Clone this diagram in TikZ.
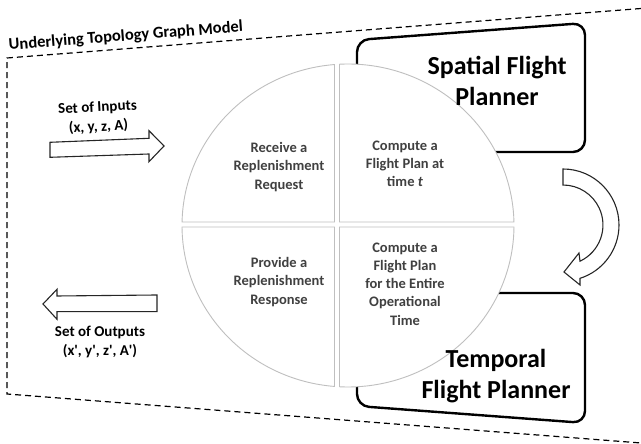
\documentclass[tikz,border=0pt]{standalone}
\usepackage{fontspec}
\setmainfont{Carlito}
\usetikzlibrary{calc}
\definecolor{qtext}{HTML}{404040}
\definecolor{qline}{HTML}{BFBFBF}

\begin{document}
\begin{tikzpicture}[x=1pt,y=1pt,
  border/.style={dash pattern=on 6pt off 4pt, line width=1.2pt},
  planner/.style={draw=black, line width=2.4pt, rounded corners=12pt, fill=white},
  plannerlabel/.style={font=\fontsize{26}{31}\selectfont\bfseries, align=center, inner sep=0pt},
  quad/.style={draw=qline, line width=0.9pt, fill=white},
  quadlabel/.style={font=\fontsize{14.5}{18.3}\selectfont\bfseries, text=qtext, align=center, inner sep=0pt},
  blockarrow/.style={draw=black!85, line width=1.1pt, fill=white, line join=miter},
  iolabel/.style={font=\fontsize{15}{19.5}\selectfont\bfseries, align=center, inner sep=0pt}]
\useasboundingbox (0,0) rectangle (641,444);

% outer dashed frame of the topology model
\draw[border] (641,435.5) -- (7,386) -- (7,50) -- (641,1);
\node[anchor=base west, rotate=4.5, font=\fontsize{16.5}{20}\selectfont\bfseries, inner sep=0pt]
  (title) at (9,394) {Underlying Topology Graph Model};

% planner panels (behind the cycle)
\draw[planner] (471,292) -- (357,292) -- (357,404) -- (585,421) -- (585,292) -- cycle;
\draw[planner] (471,151) -- (585,151) -- (585,21) -- (357,38) -- (357,151) -- cycle;

% four segments of the cycle
\coordinate (C) at (348,218.5);
\pgfmathsetmacro\tR{acos(-8.5/166)}
\pgfmathsetmacro\tL{acos(-13.5/166)}
\pgfmathsetmacro\sT{asin(3.5/161.5)}
\pgfmathsetmacro\sB{asin(-1.5/161.5)}
\draw[quad] (339.5,222) -- ($(C)+(\tR:166 and 161.5)$)
  arc[start angle=\tR, end angle=\sT, x radius=166, y radius=161.5] -- cycle;
\draw[quad] (334.5,222) -- ($(C)+(\tL:166 and 161.5)$)
  arc[start angle=\tL, end angle={180-\sT}, x radius=166, y radius=161.5] -- cycle;
\draw[quad] (334.5,217) -- ($(C)+({180-\sB}:166 and 161.5)$)
  arc[start angle={180-\sB}, end angle={360-\tL}, x radius=166, y radius=161.5] -- cycle;
\draw[quad] (339.5,217) -- ($(C)+({360-\tR}:166 and 161.5)$)
  arc[start angle={360-\tR}, end angle={360+\sB}, x radius=166, y radius=161.5] -- cycle;

\node[quadlabel] (receive) at (279,277) {Receive a\\Replenishment\\Request};
\node[quadlabel] (computet) at (405,280) {Compute a\\Flight Plan at\\time \textit{t}};
\node[quadlabel] (provide) at (279,162) {Provide a\\Replenishment\\Response};
\node[quadlabel] (computeall) at (405,160) {Compute a\\Flight Plan\\for the Entire\\Operational\\Time};

% planner titles
\node[plannerlabel] (spatial) at (497,363) {Spatial Flight\\Planner};
\node[plannerlabel] (temporal) at (496,68) {Temporal\\Flight Planner};

% curved hand-over arrow between the planners
\begin{scope}[shift={(563,219)}]
\draw[blockarrow] (0,56) arc[start angle=90, end angle=-72.3, radius=56]
  -- (17,-60) -- (1,-47) -- (16,-28) -- (17,-36.2)
  arc[start angle=-64.8, end angle=90, radius=40] -- cycle;
\end{scope}

% input and output block arrows
\draw[blockarrow] (50,301.7) -- (149,305.7) -- (149,313.3) -- (164,298)
  -- (149,282.3) -- (149,290) -- (50,286.7) -- cycle;
\draw[blockarrow] (43,140) -- (57,154.7) -- (57,148) -- (157,149)
  -- (157,132.3) -- (57,132.3) -- (57,124.7) -- cycle;

\node[iolabel, rotate=3] (inputs) at (98,326.5) {Set of Inputs\\(x, y, z, A)};
\node[iolabel] (outputs) at (100,102) {Set of Outputs\\(x\textquotesingle, y\textquotesingle, z\textquotesingle, A\textquotesingle)};
\end{tikzpicture}
\end{document}
